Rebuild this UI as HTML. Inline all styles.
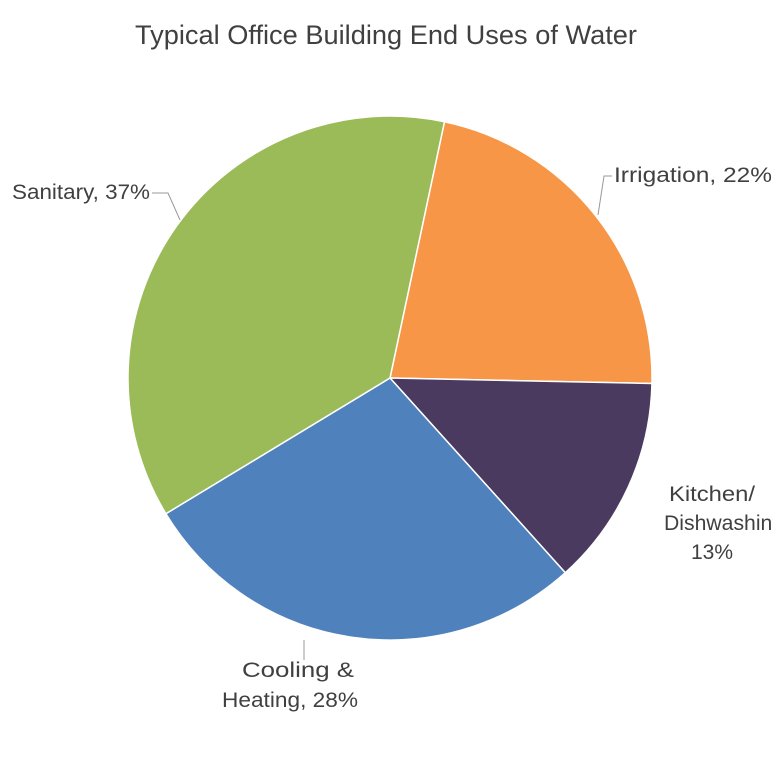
<!DOCTYPE html>
<html><head><meta charset="utf-8"><style>
body{margin:0;background:#fff;width:771px;height:771px;overflow:hidden}
text{font-family:"Liberation Sans",sans-serif;fill:#404040}
</style></head><body>
<svg id="chart" width="771" height="771">
<text x="386" y="44" text-anchor="middle" font-size="26.5" textLength="502" lengthAdjust="spacingAndGlyphs">Typical Office Building End Uses of Water</text>
<g id="slices"></g>
<g id="labels" font-size="21">
<path d="M152,193 L168,193 L180,220" stroke="#999" fill="none"/>
<text x="12" y="199" textLength="138" lengthAdjust="spacingAndGlyphs">Sanitary, 37%</text>
<path d="M612,176 L604,176 L598,215" stroke="#999" fill="none"/>
<text x="614" y="182" textLength="158" lengthAdjust="spacingAndGlyphs">Irrigation, 22%</text>
<text x="712" y="501" text-anchor="middle" textLength="86" lengthAdjust="spacingAndGlyphs">Kitchen/</text>
<text x="664" y="530" textLength="126" lengthAdjust="spacingAndGlyphs">Dishwashing,</text>
<text x="712" y="559" text-anchor="middle">13%</text>
<path d="M304,660 L304,640" stroke="#999" fill="none"/>
<text x="298" y="677" text-anchor="middle" textLength="112" lengthAdjust="spacingAndGlyphs">Cooling &amp;</text>
<text x="290" y="707" text-anchor="middle" textLength="136" lengthAdjust="spacingAndGlyphs">Heating, 28%</text>
</g>
</svg>
<script>
const categories=["Irrigation","Kitchen/Dishwashing","Cooling & Heating","Sanitary"];
const values=[22,13,28,37];
const colors=["#f79646","#4b3a60","#4f81bd","#9bbb59"];
const cx=390,cy=378,r=262,start=12;
const g=document.getElementById('slices');
const total=values.reduce((a,b)=>a+b,0);
let a=start;
function pt(d){const t=d*Math.PI/180;return [cx+r*Math.sin(t),cy-r*Math.cos(t)];}
values.forEach((v,i)=>{
 const sweep=v/total*360;
 const p1=pt(a),p2=pt(a+sweep);
 const el=document.createElementNS('http://www.w3.org/2000/svg','path');
 el.setAttribute('d',`M${cx},${cy} L${p1[0]},${p1[1]} A${r},${r} 0 ${sweep>180?1:0} 1 ${p2[0]},${p2[1]} Z`);
 el.setAttribute('fill',colors[i]);
 el.setAttribute('stroke','#fff');
 el.setAttribute('stroke-width','1.5');
 
 
 g.appendChild(el);
 a+=sweep;
});
</script>
</body></html>
